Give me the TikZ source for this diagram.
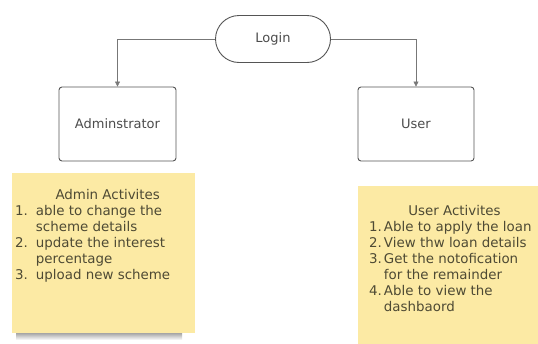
\documentclass[tikz,border=0pt]{standalone}
\usepackage{fontspec}
\setmainfont{DejaVu Sans}
\usetikzlibrary{arrows.meta}
\usetikzlibrary{positioning}
\definecolor{edge}{RGB}{85,85,85}
\definecolor{sticky}{RGB}{252,234,164}
\definecolor{ink}{RGB}{78,74,52}

\tikzset{
  box/.style={draw=edge, line width=.9pt, rounded corners=3pt, fill=white,
    minimum width=117pt, minimum height=74pt, text=black!70,
    font=\fontsize{13}{15}\selectfont},
  conn/.style={draw=edge!80, line width=.6pt, -{Triangle[width=5pt,length=5pt]}},
  note/.style={fill=sticky, draw=none, anchor=north west, inner sep=0pt},
  notetext/.style={text=ink, inner sep=0pt, anchor=north west,
    font=\fontsize{13.4}{16}\selectfont}
}

\begin{document}
\begin{tikzpicture}[x=1pt,y=-1pt]
\useasboundingbox (0,0) rectangle (538,343);
\clip (0,0) rectangle (538,343);
\fill[white] (0,0) rectangle (538,343);

\node[box, minimum width=115pt, minimum height=47pt, rounded corners=23.5pt] (login) at (273,39) {Login};
\node[box] (admin) at (117.5,124) {Adminstrator};
\node[box, minimum width=116pt] (user) at (416,124) {User};
\draw[conn] (login.west) -| (admin.north);
\draw[conn] (login.east) -| (user.north);

\shade[top color=black!45, bottom color=white] (16,331) rectangle (182,340);
\node[note, minimum width=183pt, minimum height=160pt] (adminnote) at (12,173) {};
\node[note, minimum width=190pt, minimum height=170pt] (usernote) at (358,186) {};

\node[notetext] (admintext) at (15,188) {%
\begin{tabular}{@{}l@{\hspace{8pt}}l@{}}
\multicolumn{2}{@{}c@{}}{\hspace{30pt}Admin Activites}\\
1. & able to change the\\
   & scheme details\\
2. & update the interest\\
   & percentage\\
3. & upload new scheme
\end{tabular}};
\node[notetext] (usertext) at (369,204) {%
\begin{tabular}{@{}l@{\hspace{2pt}}l@{}}
\multicolumn{2}{@{}c@{}}{\hspace{8pt}User Activites}\\
1. & Able to apply the loan\\
2. & View thw loan details\\
3. & Get the notofication\\
   & for the remainder\\
4. & Able to view the\\
   & dashbaord
\end{tabular}};
\end{tikzpicture}
\end{document}
